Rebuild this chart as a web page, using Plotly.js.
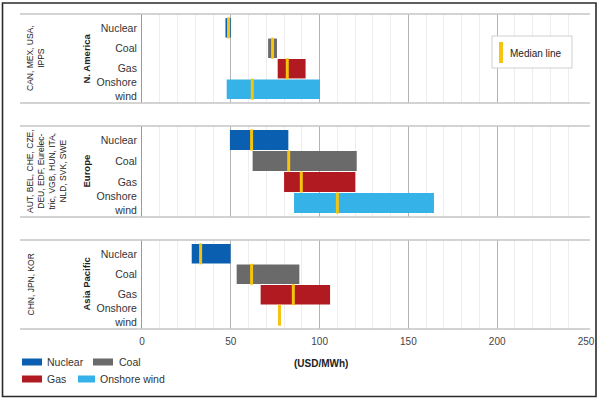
<!DOCTYPE html>
<html>
<head>
<meta charset="utf-8">
<script src="https://cdn.plot.ly/plotly-3.0.1.min.js"></script>
<style>html,body{margin:0;padding:0;background:#fff;}#chart{width:598px;height:402px;}</style>
</head>
<body>
<div id="chart"></div>
<script>
// ---- data ----
const techs = ['Nuclear', 'Coal', 'Gas', 'Onshore wind'];
const techTickLabels = ['Nuclear', 'Coal', 'Gas', 'Onshore<br>wind'];
const regions = ['N. America', 'Europe', 'Asia Pacific'];
const regionCountries = [
  'CAN, MEX, USA,<br>IPPS',
  'AUT, BEL, CHE, CZE,<br>DEU, EDF, Eurelec-<br>tric, VGB, HUN, ITA,<br>NLD, SVK, SWE',
  'CHN, JPN, KOR'
];
// USD/MWh: min, max, median per technology
const naLow    = [47.0, 71.0, 76.4, 47.7];
const naHigh   = [50.0, 76.0, 92.1, 100.2];
const naMedian = [48.7, 73.5, 81.8, 62.1];
const euLow    = [49.5, 62.3, 80.0, 85.6];
const euHigh   = [82.4, 120.9, 120.1, 164.4];
const euMedian = [61.7, 82.6, 89.7, 110.0];
const apLow    = [28.0, 53.3, 66.8, 76.9];
const apHigh   = [49.9, 88.6, 105.9, 78.0];
const apMedian = [33.0, 61.7, 85.2, 77.4];
const xTicks = [0, 50, 100, 150, 200, 250];
const unitLabel = '(USD/MWh)';
const medianLabel = 'Median line';

// ---- styles ----
const techColors = ['#0a5fb0', '#6a6a6a', '#b01a20', '#35b2e8'];
const medianColor = '#f4c40f';
const FONT = 'Liberation Sans, Arial, sans-serif';

const W = 598, H = 402, ML = 142, MR = 12, MT = 14, MB = 73;
const PW = W - ML - MR, PH = H - MT - MB;
const px2x = p => (p - ML) / PW;
const px2y = p => (H - MB - p) / PH;

const panelPx = [[14, 103], [126, 217], [240, 329]];
const domains = panelPx.map(([a, b]) => [px2y(b), px2y(a)]);

const lows = [naLow, euLow, apLow];
const highs = [naHigh, euHigh, apHigh];
const medians = [naMedian, euMedian, apMedian];
const yNames = ['y', 'y2', 'y3'];

const traces = [];
for (let r = 0; r < 3; r++) {
  traces.push({
    type: 'bar', orientation: 'h',
    y: techs,
    base: lows[r],
    x: highs[r].map((h, i) => h - lows[r][i]),
    marker: {color: techColors, line: {width: 0}},
    width: 0.95,
    xaxis: 'x', yaxis: yNames[r],
    hoverinfo: 'skip'
  });
  traces.push({
    type: 'scatter', mode: 'markers',
    y: techs, x: medians[r],
    marker: {symbol: 'line-ns', size: 15, line: {color: medianColor, width: 3}},
    xaxis: 'x', yaxis: yNames[r],
    hoverinfo: 'skip'
  });
}

function yAxis(dom) {
  return {
    domain: dom,
    type: 'category',
    categoryorder: 'array', categoryarray: techs,
    autorange: 'reversed',
    tickvals: techs, ticktext: techTickLabels,
    ticks: '', ticklabelstandoff: 2,
    showline: true, linecolor: '#9a9a9a', linewidth: 1,
    showgrid: false, zeroline: false,
    tickfont: {family: FONT, size: 10.5, color: '#333'},
    fixedrange: true
  };
}

const shapes = [];
const annotations = [];
// outer frame
shapes.push({type: 'rect', xref: 'paper', yref: 'paper',
  x0: px2x(2.5), x1: px2x(596), y0: px2y(396.5), y1: px2y(3),
  line: {color: '#2a2a2a', width: 1.6}, fillcolor: 'rgba(0,0,0,0)'});
// panel separators
panelPx.forEach(([a, b]) => {
  [a, b].forEach(p => shapes.push({type: 'line', xref: 'paper', yref: 'paper',
    x0: px2x(20), x1: px2x(590), y0: px2y(p), y1: px2y(p),
    line: {color: '#c4c4c4', width: 1.3}}));
});
// region + country labels
for (let r = 0; r < 3; r++) {
  const mid = (panelPx[r][0] + panelPx[r][1]) / 2;
  annotations.push({xref: 'paper', yref: 'paper', x: px2x(86), y: px2y(mid),
    text: '<b>' + regions[r] + '</b>', textangle: -90, showarrow: false,
    xanchor: 'center', yanchor: 'middle',
    font: {family: FONT, size: 9.5, color: '#222'}});
  annotations.push({xref: 'paper', yref: 'paper', x: px2x(23), y: px2y(mid),
    text: regionCountries[r], textangle: -90, showarrow: false,
    xanchor: 'left', yanchor: 'middle', align: 'center',
    font: {family: FONT, size: 8.5, color: '#222'}});
}
// unit label
annotations.push({xref: 'paper', yref: 'paper', x: px2x(321), y: px2y(363),
  text: '<b>' + unitLabel + '</b>', showarrow: false, xanchor: 'center', yanchor: 'middle',
  font: {family: FONT, size: 10, color: '#222'}});
// median legend box
shapes.push({type: 'rect', xref: 'paper', yref: 'paper',
  x0: px2x(492), x1: px2x(572), y0: px2y(68), y1: px2y(36),
  line: {color: '#cfcfcf', width: 1}, fillcolor: '#ffffff'});
shapes.push({type: 'rect', xref: 'paper', yref: 'paper',
  x0: px2x(499), x1: px2x(503), y0: px2y(63), y1: px2y(42),
  line: {width: 0}, fillcolor: medianColor});
annotations.push({xref: 'paper', yref: 'paper', x: px2x(508), y: px2y(53),
  text: medianLabel, showarrow: false, xanchor: 'left', yanchor: 'middle',
  font: {family: FONT, size: 10, color: '#222'}});
// technology legend
const legPos = [[22, 42, 362, 45], [93, 113, 362, 117], [22, 42, 379, 45], [78, 95, 379, 98]];
techs.forEach((t, i) => {
  const [a, b, yc, tx] = legPos[i];
  shapes.push({type: 'rect', xref: 'paper', yref: 'paper',
    x0: px2x(a), x1: px2x(b), y0: px2y(yc + 3.5), y1: px2y(yc - 3.5),
    line: {width: 0}, fillcolor: techColors[i]});
  annotations.push({xref: 'paper', yref: 'paper', x: px2x(tx), y: px2y(yc),
    text: t, showarrow: false, xanchor: 'left', yanchor: 'middle',
    font: {family: FONT, size: 10.5, color: '#333'}});
});

const layout = {
  width: W, height: H,
  margin: {l: ML, r: MR, t: MT, b: MB, pad: 0},
  paper_bgcolor: '#ffffff', plot_bgcolor: '#ffffff',
  showlegend: false,
  barmode: 'overlay',
  font: {family: FONT, size: 10, color: '#333'},
  xaxis: {
    range: [0, 250], tickvals: xTicks, ticks: '',
    anchor: 'y3',
    showgrid: true, gridcolor: '#b4b4b4', gridwidth: 1,
    minor: {dtick: 10, showgrid: true, gridcolor: '#ededed', gridwidth: 1},
    zeroline: false, showline: false,
    ticklabelstandoff: 5,
    tickfont: {family: FONT, size: 10, color: '#444'},
    fixedrange: true
  },
  yaxis: yAxis(domains[0]),
  yaxis2: yAxis(domains[1]),
  yaxis3: yAxis(domains[2]),
  shapes: shapes,
  annotations: annotations
};

Plotly.newPlot('chart', traces, layout, {staticPlot: true, displayModeBar: false});
</script>
</body>
</html>
